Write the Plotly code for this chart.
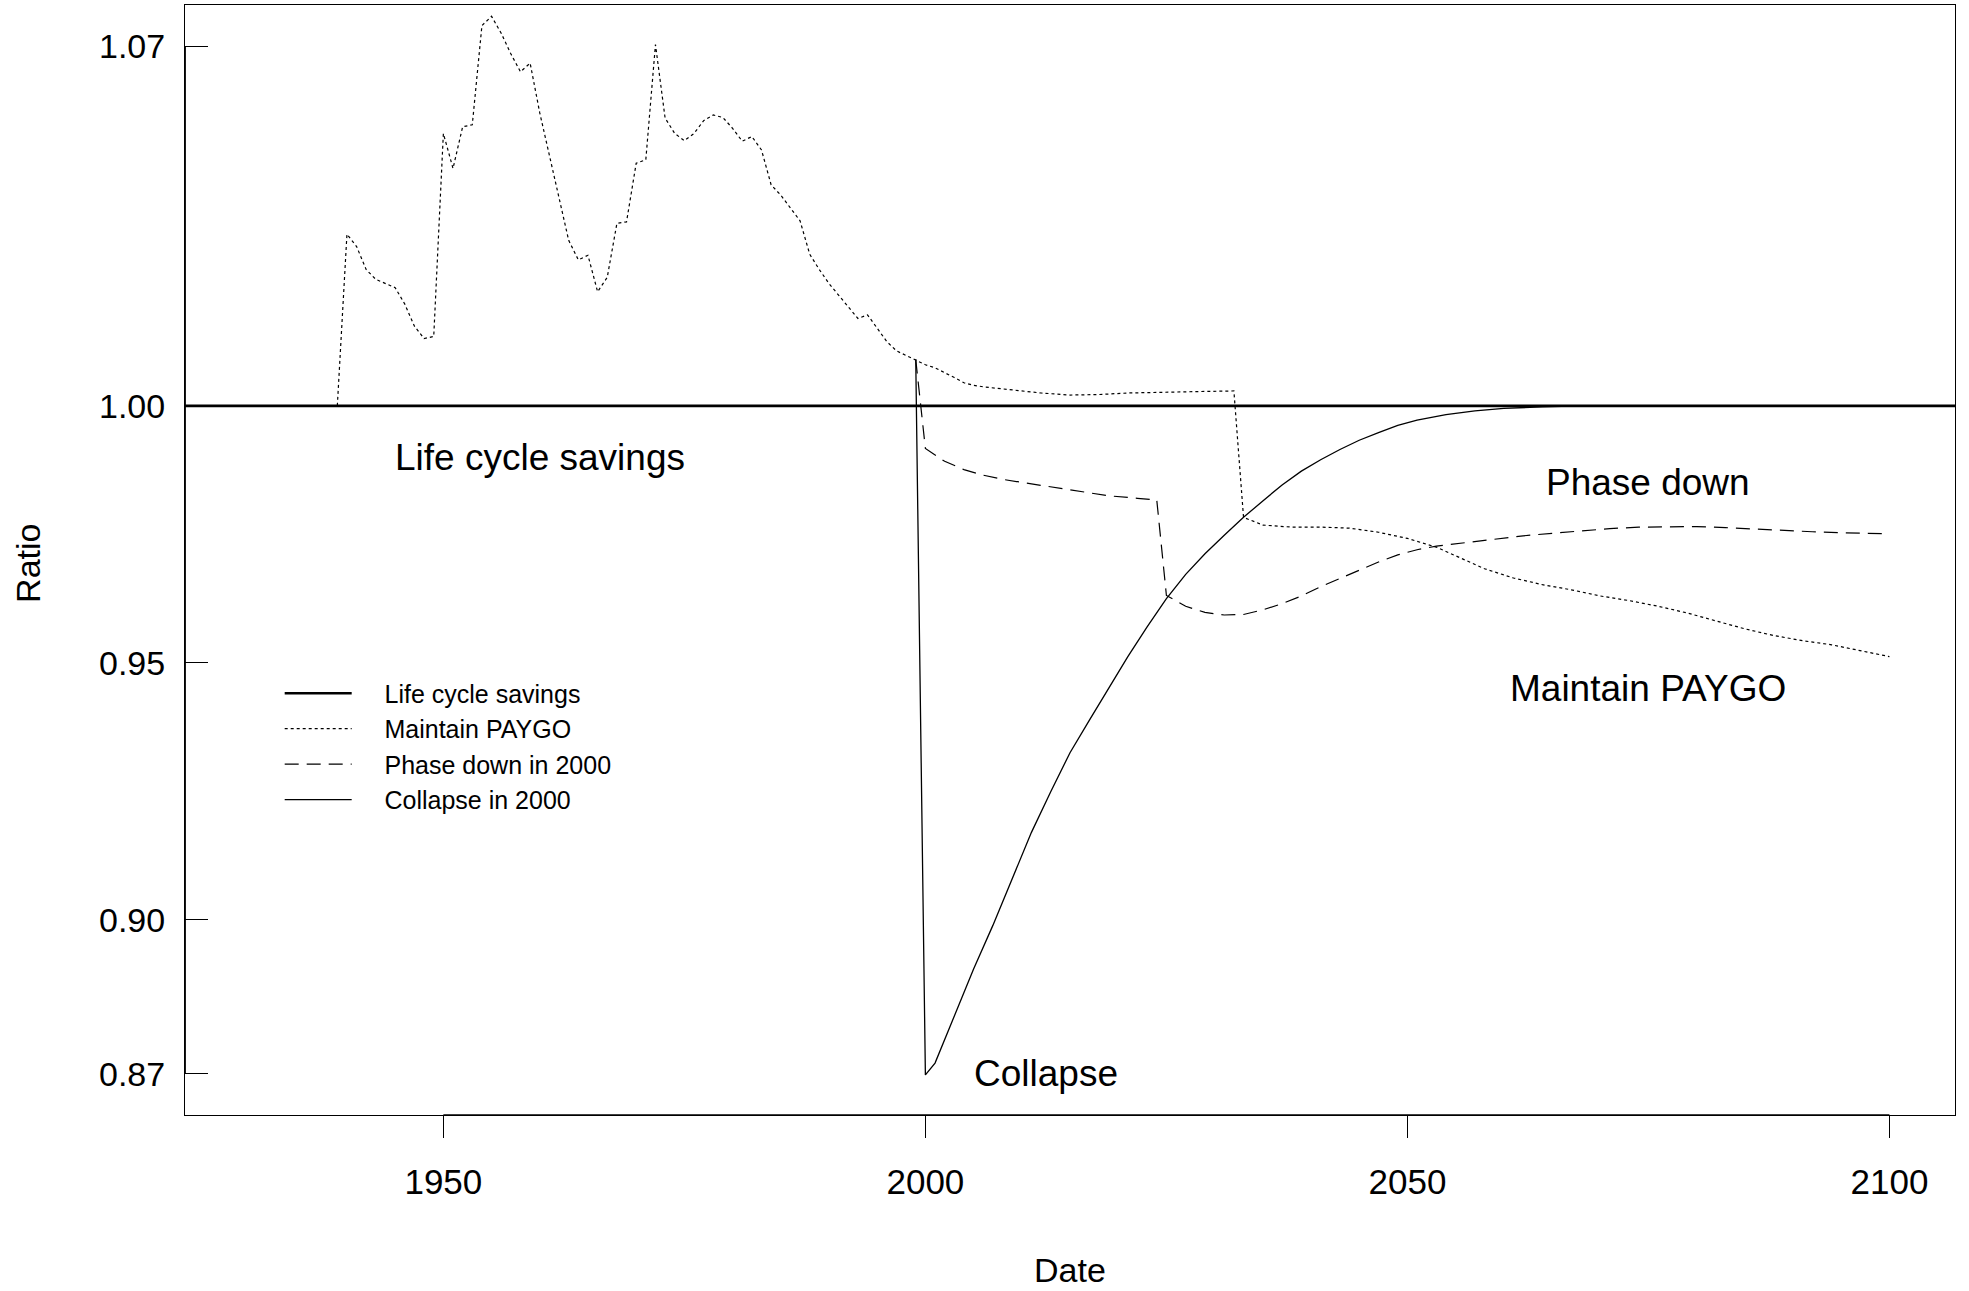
import plotly.graph_objects as go

# ---------------- data ----------------
LIFE_YEARS = [1930, 2100]
LIFE_LEVEL = 1.0

PAYGO_YEARS = [1939, 1940, 1941, 1942, 1943, 1944, 1945, 1946, 1947, 1948, 1949,
               1950, 1951, 1952, 1953, 1954, 1955, 1956, 1957, 1958, 1959,
               1960, 1961, 1962, 1963, 1964, 1965, 1966, 1967, 1968, 1969,
               1970, 1971, 1972, 1973, 1974, 1975, 1976, 1977, 1978, 1979,
               1980, 1981, 1982, 1983, 1984, 1985, 1986, 1987, 1988, 1989,
               1990, 1991, 1992, 1993, 1994, 1995, 1996, 1997, 1998, 1999,
               2000, 2001, 2002, 2003, 2004, 2005, 2006, 2008, 2010, 2012,
               2015, 2018, 2021, 2025, 2029, 2032, 2033, 2035, 2038, 2041,
               2044, 2047, 2050, 2053, 2056, 2058, 2061, 2064, 2067, 2070,
               2073, 2076, 2079, 2082, 2085, 2088, 2091, 2094, 2097, 2100]
PAYGO_VALUES = [1.0000, 1.0334, 1.0310, 1.0265, 1.0246, 1.0238, 1.0230, 1.0198, 1.0155, 1.0131, 1.0135,
                1.0530, 1.0462, 1.0543, 1.0547, 1.0740, 1.0758, 1.0725, 1.0685, 1.0650, 1.0667,
                1.0570, 1.0488, 1.0405, 1.0322, 1.0284, 1.0293, 1.0222, 1.0250, 1.0355, 1.0358,
                1.0472, 1.0479, 1.0703, 1.0560, 1.0530, 1.0516, 1.0530, 1.0555, 1.0566, 1.0561,
                1.0540, 1.0515, 1.0524, 1.0498, 1.0430, 1.0410, 1.0385, 1.0360, 1.0295, 1.0265,
                1.0238, 1.0215, 1.0192, 1.0170, 1.0177, 1.0150, 1.0125, 1.0107, 1.0098, 1.0090,
                1.0080, 1.0074, 1.0065, 1.0055, 1.0045, 1.0040, 1.0037, 1.0033, 1.0029, 1.0025,
                1.0021, 1.0022, 1.0025, 1.0027, 1.0028, 1.0029, 0.9783, 0.9768, 0.9764, 0.9764,
                0.9762, 0.9754, 0.9742, 0.9725, 0.9700, 0.9683, 0.9665, 0.9652, 0.9642, 0.9630,
                0.9621, 0.9610, 0.9597, 0.9582, 0.9566, 0.9553, 0.9543, 0.9535, 0.9524, 0.9512]

PHASE_YEARS = [1999, 2000, 2002, 2004, 2006, 2008, 2010, 2013, 2016, 2019, 2022, 2024,
               2025, 2027, 2029, 2031, 2033, 2035, 2037, 2039, 2041, 2043, 2045, 2047,
               2049, 2051, 2053, 2056, 2059, 2062, 2065, 2068, 2071, 2074, 2077, 2080,
               2083, 2086, 2089, 2092, 2095, 2098, 2100]
PHASE_VALUES = [1.0090, 0.9917, 0.9892, 0.9876, 0.9865, 0.9857, 0.9851, 0.9842, 0.9833, 0.9825, 0.9820, 0.9817,
                0.9631, 0.9610, 0.9598, 0.9593, 0.9594, 0.9603, 0.9615, 0.9630, 0.9648, 0.9664, 0.9680, 0.9696,
                0.9710, 0.9720, 0.9727, 0.9734, 0.9741, 0.9747, 0.9752, 0.9757, 0.9761, 0.9764, 0.9765, 0.9765,
                0.9763, 0.9760, 0.9757, 0.9755, 0.9753, 0.9752, 0.9751]

COLLAPSE_YEARS = [1999, 2000, 2001, 2003, 2005, 2007, 2009, 2011, 2013, 2015, 2017, 2019,
                  2021, 2023, 2025, 2027, 2029, 2031, 2033, 2035, 2037, 2039, 2041, 2043,
                  2045, 2047, 2049, 2051, 2054, 2057, 2060, 2064, 2068, 2100]
COLLAPSE_VALUES = [1.0090, 0.8698, 0.8721, 0.8811, 0.8904, 0.8989, 0.9078, 0.9170, 0.9249, 0.9325, 0.9388, 0.9450,
                   0.9512, 0.9570, 0.9625, 0.9672, 0.9712, 0.9748, 0.9783, 0.9815, 0.9846, 0.9873, 0.9895, 0.9915,
                   0.9933, 0.9948, 0.9962, 0.9972, 0.9983, 0.9990, 0.9995, 0.9998, 1.0000, 1.0000]

X_TICKS = [1950, 2000, 2050, 2100]
Y_TICKS = [0.87, 0.90, 0.95, 1.00, 1.07]
Y_TICK_LABELS = ["0.87", "0.90", "0.95", "1.00", "1.07"]
Y_LIMITS = [0.87, 1.07]

LABELS = ["Life cycle savings", "Phase down", "Maintain PAYGO", "Collapse"]
LABEL_X = [1960, 2075, 2075, 2012.5]
LABEL_Y = [0.990, 0.985, 0.945, 0.870]

# ---------------- scales (R style 4% padding) ----------------
all_years = LIFE_YEARS + PAYGO_YEARS + PHASE_YEARS + COLLAPSE_YEARS
x0, x1 = min(all_years), max(all_years)
xpad = 0.04 * (x1 - x0)
xr = [x0 - xpad, x1 + xpad]
ypad = 0.04 * (Y_LIMITS[1] - Y_LIMITS[0])
yr = [Y_LIMITS[0] - ypad, Y_LIMITS[1] + ypad]

FONT = "Liberation Sans, Arial, Helvetica, sans-serif"
GAP = "\u00a0" * 4

fig = go.Figure()
fig.add_trace(go.Scatter(x=xr, y=[LIFE_LEVEL, LIFE_LEVEL], mode="lines",
                         name=GAP + "Life cycle savings",
                         line=dict(color="black", width=2.6)))
fig.add_trace(go.Scatter(x=PAYGO_YEARS, y=PAYGO_VALUES, mode="lines",
                         name=GAP + "Maintain PAYGO",
                         line=dict(color="black", width=1.2, dash="3px,3px")))
fig.add_trace(go.Scatter(x=PHASE_YEARS, y=PHASE_VALUES, mode="lines",
                         name=GAP + "Phase down in 2000",
                         line=dict(color="black", width=1.2, dash="14px,8px")))
fig.add_trace(go.Scatter(x=COLLAPSE_YEARS, y=COLLAPSE_VALUES, mode="lines",
                         name=GAP + "Collapse in 2000",
                         line=dict(color="black", width=1.3)))

for txt, lx, ly in zip(LABELS, LABEL_X, LABEL_Y):
    fig.add_annotation(x=lx, y=ly, xref="x", yref="y", text=txt, showarrow=False,
                       xanchor="center", yanchor="middle",
                       font=dict(family=FONT, size=37, color="black"))

fig.add_annotation(x=0.5, y=-0.1395, xref="paper", yref="paper", text="Date",
                   showarrow=False, xanchor="center", yanchor="middle",
                   font=dict(family=FONT, size=34, color="black"))
fig.add_annotation(x=-0.0887, y=0.4965, xref="paper", yref="paper", text="Ratio",
                   showarrow=False, xanchor="center", yanchor="middle", textangle=-90,
                   font=dict(family=FONT, size=34, color="black"))

# R-style axis lines running from first to last tick
fig.add_shape(type="line", xref="paper", yref="y", x0=0, x1=0,
              y0=min(Y_TICKS), y1=max(Y_TICKS), line=dict(color="black", width=1.8))
fig.add_shape(type="line", xref="x", yref="paper", y0=0, y1=0,
              x0=min(X_TICKS), x1=max(X_TICKS), line=dict(color="black", width=1.6))

fig.update_layout(
    width=1969, height=1291,
    margin=dict(l=185, r=14, t=5, b=176, pad=0),
    paper_bgcolor="white", plot_bgcolor="white",
    font=dict(family=FONT, color="black"),
    showlegend=True,
    legend=dict(x=0.0535, y=0.4005, xanchor="left", yanchor="top",
                bgcolor="rgba(0,0,0,0)", borderwidth=0,
                itemwidth=67, font=dict(family=FONT, size=25, color="black")),
    xaxis=dict(range=xr, tickvals=X_TICKS, ticks="outside", ticklen=22,
               tickwidth=1, tickcolor="black", showgrid=False, zeroline=False,
               showline=True, mirror=True, linecolor="black", linewidth=1,
               tickfont=dict(family=FONT, size=35, color="black"),
               ticklabelstandoff=14),
    yaxis=dict(range=yr, tickvals=Y_TICKS, ticktext=Y_TICK_LABELS, ticks="inside",
               ticklen=23, tickwidth=1, tickcolor="black", showgrid=False,
               zeroline=False, showline=True, mirror=True, linecolor="black",
               linewidth=1, tickfont=dict(family=FONT, size=34, color="black"),
               ticklabelstandoff=12),
)

fig.write_html("out.html", config={"displayModeBar": False},
               post_script="document.body.style.margin='0px';")
